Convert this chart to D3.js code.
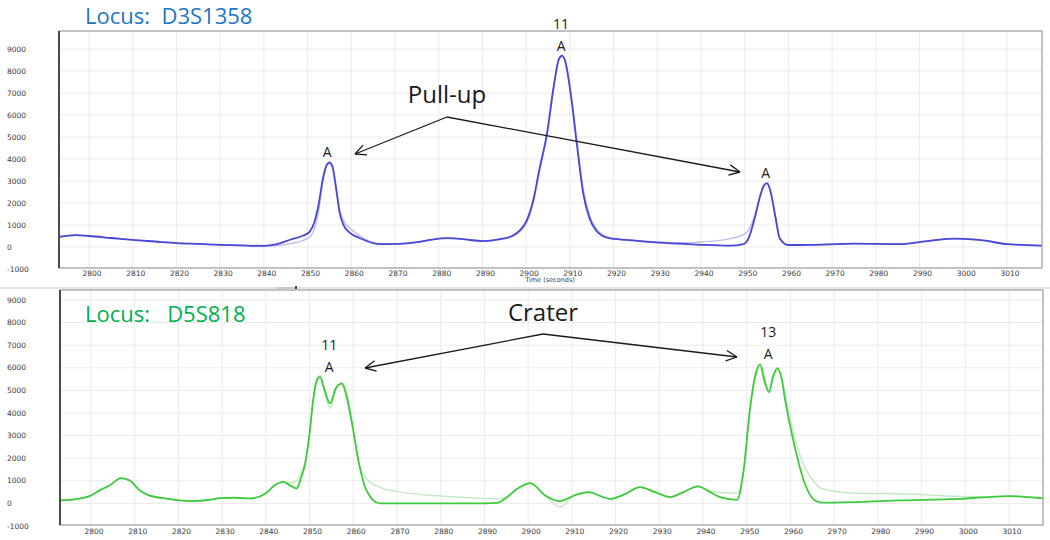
<!DOCTYPE html>
<html lang="en">
<head>
<meta charset="UTF-8">
<title>Locus D3S1358 / D5S818 electropherogram</title>
<style>
    body { margin: 0; background: #fff; }
    svg { display: block; }
    .tick-label { font-family: "DejaVu Sans", sans-serif; font-size: 7.5px; fill: #3a3a3a; }
    .grid { stroke: #ebebeb; stroke-width: 1; }
    .note { font-family: "Open Sans", sans-serif; fill: #1a1a1a; }
</style>
</head>
<body>
<svg id="chart" width="1050" height="540"></svg>
<script src="https://d3js.org/d3.v7.min.js"></script>
<script>
    // x ticks (seconds) and y ticks (RFU), shared by both panels
    const xTicks = d3.range(2800, 3011, 10);
    const yTicks = [-1000, 0, 1000, 2000, 3000, 4000, 5000, 6000, 7000, 8000, 9000];

    // D3S1358 trace (top panel)
    const topTime = [2793, 2797, 2800, 2805, 2810, 2815, 2820, 2825, 2830, 2835, 2840, 2843, 2846, 2849,
        2850.5, 2851.5, 2852.5, 2853.5, 2854.3, 2855, 2855.7, 2856.5, 2857.3, 2858.1, 2859.7, 2862, 2866.6,
        2871, 2875, 2878, 2882, 2885, 2887, 2890, 2894, 2897, 2898.6, 2900, 2901.6, 2903, 2904.8, 2906.3,
        2907.5, 2908.2, 2909, 2910.3, 2911.7, 2913, 2914.5, 2916, 2917.5, 2919, 2923, 2928, 2935, 2940,
        2946.7, 2949.7, 2951, 2952.4, 2953.5, 2954.4, 2955.1, 2955.8, 2957, 2958, 2960, 2965, 2975, 2985.5,
        2990, 2994, 2998, 3002, 3005, 3010, 3019];
    const topMain = [450, 540, 500, 410, 320, 250, 180, 140, 100, 70, 50, 130, 330, 520,
        700, 1100, 1900, 3100, 3700, 3850, 3650, 2700, 1600, 1050, 640, 400, 130,
        140, 220, 320, 400, 370, 320, 270, 360, 520, 770, 1150, 2100, 3500, 5200, 7300,
        8550, 8700, 8400, 6800, 4500, 2500, 1300, 750, 500, 400, 320, 230, 150, 100,
        60, 130, 450, 1400, 2300, 2800, 2900, 2600, 1400, 400, 90, 100, 150, 130,
        220, 320, 380, 350, 290, 130, 60];
    const topLight = [450, 540, 500, 410, 320, 250, 180, 140, 100, 70, 50, 60, 150, 300,
        450, 800, 1600, 3000, 3650, 3800, 3650, 2800, 1750, 1250, 850, 500, 150,
        140, 220, 320, 400, 370, 320, 270, 340, 480, 700, 1050, 2000, 3400, 5100, 7200,
        8500, 8650, 8400, 6900, 4700, 2700, 1450, 850, 560, 420, 330, 250, 190, 230,
        380, 560, 800, 1500, 2300, 2800, 2900, 2600, 1400, 400, 90, 100, 150, 130,
        220, 320, 380, 350, 290, 130, 60];

    // D5S818 trace (bottom panel)
    const botTime = [2793, 2797, 2800, 2802, 2804.3, 2806.9, 2809, 2811, 2813, 2817, 2822.6, 2827, 2829.5,
        2833, 2836.4, 2840, 2842, 2844, 2845.5, 2847, 2848, 2849, 2850, 2850.8, 2851.6, 2852.4, 2853.3,
        2854.7, 2856, 2857.4, 2858.5, 2859.7, 2861.3, 2863, 2866, 2870, 2880, 2890, 2892.9, 2895, 2897.5,
        2900.5, 2903.9, 2907.3, 2910.5, 2913.7, 2918.8, 2922, 2925.6, 2929, 2932.5, 2935.5, 2938.9, 2941.6,
        2943.9, 2947.8, 2949.2, 2950.8, 2952, 2953.1, 2954, 2955.1, 2956, 2957, 2958, 2958.8, 2961, 2963.3,
        2965.6, 2967.2, 2975, 2985, 2998.8, 3005, 3010.2, 3019];
    const botMain = [130, 200, 350, 575, 800, 1120, 1000, 600, 380, 220, 100, 150, 230,
        250, 220, 450, 800, 950, 800, 660, 1100, 1770, 3100, 4550, 5400, 5600, 5100,
        4420, 5100, 5300, 4700, 3540, 1770, 575, 0, 0, 0, 0, 20, 250, 650,
        900, 350, 100, 350, 500, 200, 400, 720, 500, 280, 500, 750, 500,
        280, 160, 1330, 4260, 5700, 6150, 5500, 4930, 5600, 5990, 5500, 4560, 2490, 870,
        130, 30, 60, 130, 200, 280, 320, 200];
    const botLight = [130, 200, 350, 575, 800, 1120, 1000, 600, 380, 220, 100, 150, 230,
        250, 220, 450, 800, 950, 900, 1000, 1300, 1900, 3100, 4500, 5500, 5650, 5000,
        4200, 5000, 5350, 4900, 3700, 1750, 1100, 720, 520, 330, 220, 200, 260, 650,
        880, 330, -160, 330, 480, 200, 400, 700, 500, 300, 500, 730, 550,
        480, 450, 1300, 4200, 5600, 6000, 5300, 5000, 5500, 5900, 5600, 4800, 2900, 1600,
        900, 650, 450, 430, 310, 300, 320, 200];

    const svg = d3.select("#chart");

    function drawPanel(p) {
        const x = d3.scaleLinear().domain([2800, 3010]).range([p.x0, p.x1]);
        const y = d3.scaleLinear().domain([-1000, 9000]).range([p.y0, p.y1]);
        const left = p.left, right = p.right, top = p.top, bottom = p.bottom;

        const g = svg.append("g");
        const clipId = "clip-" + p.id;
        svg.append("clipPath").attr("id", clipId)
            .append("rect").attr("x", left).attr("y", top)
            .attr("width", right - left).attr("height", bottom - top);

        // grid
        g.selectAll(".gx").data(xTicks).join("line")
            .attr("class", "grid")
            .attr("x1", d => x(d)).attr("x2", d => x(d))
            .attr("y1", top).attr("y2", bottom);
        g.selectAll(".gy").data(yTicks.filter(d => y(d) > top && y(d) < bottom)).join("line")
            .attr("class", "grid")
            .attr("x1", left).attr("x2", right)
            .attr("y1", d => y(d)).attr("y2", d => y(d));

        // traces
        const line = d3.line()
            .x((d, i) => x(p.time[i]))
            .y(d => y(d))
            .curve(d3.curveMonotoneX);
        const traces = g.append("g").attr("clip-path", `url(#${clipId})`);
        traces.append("path").attr("d", line(p.light))
            .attr("fill", "none").attr("stroke", p.lightColor).attr("stroke-width", 1.4);
        traces.append("path").attr("d", line(p.main))
            .attr("fill", "none").attr("stroke", p.mainColor).attr("stroke-width", 1.8);

        // frame
        g.append("rect").attr("x", left).attr("y", top)
            .attr("width", right - left).attr("height", bottom - top)
            .attr("fill", "none").attr("stroke", "#9a9a9a").attr("stroke-width", 1.2);
        g.append("line").attr("x1", left).attr("x2", left)
            .attr("y1", top).attr("y2", bottom)
            .attr("stroke", "#4a4a4a").attr("stroke-width", 2);

        // tick labels
        g.selectAll(".yl").data(yTicks).join("text")
            .attr("class", "tick-label")
            .attr("x", 7).attr("y", d => y(d))
            .attr("dy", "0.35em")
            .text(d => d);
        g.selectAll(".xl").data(xTicks).join("text")
            .attr("class", "tick-label")
            .attr("x", d => x(d) + 3).attr("y", p.xLabelY)
            .attr("dy", "0.35em")
            .attr("text-anchor", "middle")
            .text(d => d);

        return { x, y };
    }

    const topPanel = drawPanel({
        id: "top", time: topTime, main: topMain, light: topLight,
        mainColor: "#4747d9", lightColor: "#bcbcf0",
        left: 59, right: 1042, top: 31, bottom: 268,
        x0: 89, x1: 1007, y0: 269, y1: 49, xLabelY: 273
    });
    const botPanel = drawPanel({
        id: "bot", time: botTime, main: botMain, light: botLight,
        mainColor: "#3ccb3c", lightColor: "#c2eac2",
        left: 60, right: 1043, top: 290, bottom: 525,
        x0: 91, x1: 1009, y0: 526, y1: 300, xLabelY: 531
    });

    // axis caption and the separator between panels
    svg.append("text").attr("class", "tick-label")
        .attr("x", 550).attr("y", 280).attr("dy", "0.35em")
        .attr("text-anchor", "middle").style("font-size", "6.5px")
        .text("Time (seconds)");
    svg.append("line").attr("x1", 0).attr("x2", 1050).attr("y1", 288).attr("y2", 288)
        .attr("stroke", "#e2e2e2").attr("stroke-width", 2);
    svg.append("rect").attr("x", 277).attr("y", 287).attr("width", 18).attr("height", 2)
        .attr("fill", "#c8c8c8");
    svg.append("rect").attr("x", 295).attr("y", 286).attr("width", 2).attr("height", 3)
        .attr("fill", "#444");

    // titles
    svg.append("text").attr("class", "note")
        .attr("x", 85).attr("y", 24).style("font-size", "22px")
        .style("fill", "#1d76c6").text("Locus:\u00a0\u00a0D3S1358");
    svg.append("text").attr("class", "note")
        .attr("x", 85).attr("y", 322).style("font-size", "22px")
        .style("fill", "#00b050").text("Locus:\u00a0\u00a0\u00a0D5S818");

    // peak labels
    const peakLabels = [
        { t: 2854.5, v: 3850, p: topPanel, lines: ["A"] },
        { t: 2908, v: 8700, p: topPanel, lines: ["11", "A"] },
        { t: 2954.8, v: 2900, p: topPanel, lines: ["A"] },
        { t: 2854.5, v: 5600, p: botPanel, lines: ["11", "A"] },
        { t: 2954.9, v: 6150, p: botPanel, lines: ["13", "A"] }
    ];
    peakLabels.forEach(d => {
        const px = d.p.x(d.t);
        const py = d.p.y(d.v) - 5;
        d.lines.slice().reverse().forEach((s, i) => {
            svg.append("text").attr("class", "note")
                .attr("x", px).attr("y", py - i * 22)
                .attr("text-anchor", "middle")
                .style("font-size", "14px")
                .text(s);
        });
    });

    // callout arrows
    function arrow(x1, y1, x2, y2) {
        svg.append("line").attr("x1", x1).attr("y1", y1).attr("x2", x2).attr("y2", y2)
            .attr("stroke", "#1a1a1a").attr("stroke-width", 1.3);
        const a = Math.atan2(y2 - y1, x2 - x1);
        [0.45, -0.45].forEach(o => {
            svg.append("line").attr("x1", x2).attr("y1", y2)
                .attr("x2", x2 - 12 * Math.cos(a + o)).attr("y2", y2 - 12 * Math.sin(a + o))
                .attr("stroke", "#1a1a1a").attr("stroke-width", 1.3);
        });
    }

    svg.append("text").attr("class", "note")
        .attr("x", 447).attr("y", 103).attr("text-anchor", "middle")
        .style("font-size", "24px").text("Pull-up");
    arrow(447, 117, 355, 154);
    arrow(447, 117, 740, 172);

    svg.append("text").attr("class", "note")
        .attr("x", 543).attr("y", 321).attr("text-anchor", "middle")
        .style("font-size", "24px").text("Crater");
    arrow(543, 334, 365, 368);
    arrow(543, 334, 737, 357);
</script>
</body>
</html>
